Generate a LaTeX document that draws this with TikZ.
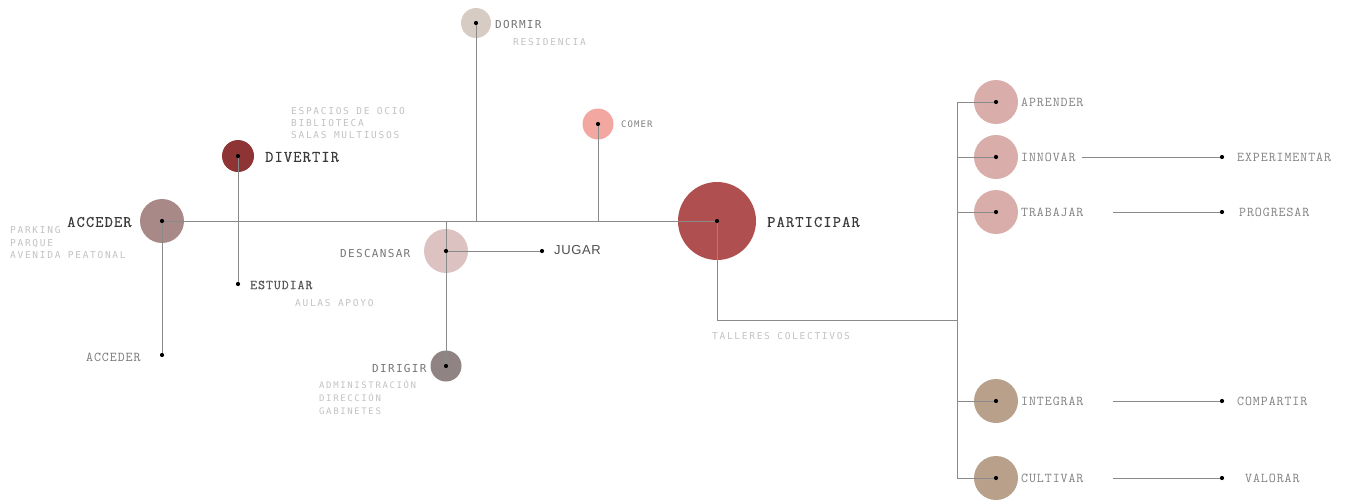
\documentclass[tikz,border=0pt]{standalone}
\usepackage{fontspec}
\setmainfont{Liberation Sans}
\newfontfamily\courfont[LetterSpace=7]{Latin Modern Mono}
\newfontfamily\courbold[LetterSpace=7,FakeBold=0.5]{Latin Modern Mono}
\newfontfamily\subfont[LetterSpace=18]{DejaVu Sans Mono}
\newfontfamily\midfont[LetterSpace=12]{DejaVu Sans Mono}
\newfontfamily\jugfont[LetterSpace=5]{Liberation Sans}
\definecolor{linec}{HTML}{8A8A8A}
\definecolor{cAcc}{HTML}{A98987}
\definecolor{cDiv}{HTML}{8E3434}
\definecolor{cDor}{HTML}{D7CCC3}
\definecolor{cCom}{HTML}{F2A7A1}
\definecolor{cDes}{HTML}{DCC3C1}
\definecolor{cDir}{HTML}{8F8483}
\definecolor{cPar}{HTML}{B04F4F}
\definecolor{cRose}{HTML}{D9ADA9}
\definecolor{cTan}{HTML}{B9A08B}
\definecolor{darktxt}{HTML}{3A3A3A}
\definecolor{graytxt}{HTML}{808080}
\definecolor{midtxt}{HTML}{767676}
\definecolor{subtxt}{HTML}{C2C2C2}
\tikzset{
  line/.style={draw=linec, line width=0.8pt},
  hub/.style={circle, inner sep=0pt, minimum size=#1},
  dot/.style={circle, fill=black, inner sep=0pt, minimum size=4.2pt},
  big/.style={font=\courbold\fontsize{16}{17}\selectfont, text=darktxt, inner sep=0pt, anchor=west},
  cour/.style={font=\courfont\fontsize{13.5}{14}\selectfont, text=graytxt, inner sep=0pt, anchor=west},
  mid/.style={font=\midfont\fontsize{11}{12}\selectfont, text=midtxt, inner sep=0pt, anchor=west},
  sub/.style={font=\subfont\fontsize{9.5}{12.5}\selectfont, text=subtxt, inner sep=0pt, align=left},
}
\begin{document}
\begin{tikzpicture}[x=1pt, y=-1pt]
\path[use as bounding box] (0,0) rectangle (1346,499);
% hubs
\node[hub=44pt, fill=cAcc] (acc) at (162,221) {};
\node[hub=32pt, fill=cDiv] (div) at (238,156) {};
\node[hub=30pt, fill=cDor] (dor) at (476,23) {};
\node[hub=31pt, fill=cCom] (com) at (598,124) {};
\node[hub=44pt, fill=cDes] (des) at (446,251) {};
\node[hub=31pt, fill=cDir] (dir) at (446,366) {};
\node[hub=78pt, fill=cPar] (par) at (717,221) {};
\node[hub=44pt, fill=cRose] (apr) at (996,102) {};
\node[hub=44pt, fill=cRose] (inn) at (996,157) {};
\node[hub=44pt, fill=cRose] (tra) at (996,212) {};
\node[hub=44pt, fill=cTan] (int) at (996,401) {};
\node[hub=44pt, fill=cTan] (cul) at (996,478) {};
% end dots
\node[dot] (acc2) at (162,355) {};
\node[dot] (est) at (238,284) {};
\node[dot] (jug) at (542,251) {};
\node[dot] (exp) at (1222,157) {};
\node[dot] (pro) at (1222,212) {};
\node[dot] (cmp) at (1222,401) {};
\node[dot] (val) at (1222,478) {};
% main labels
\node[big] (tAcc) at (67,222) {ACCEDER};
\node[big] (tDiv) at (265,157) {DIVERTIR};
\node[big] (tPar) at (767,222) {PARTICIPAR};
\node[cour, font=\courbold\fontsize{13.5}{14}\selectfont, text=darktxt!85] (tEst) at (250,285) {ESTUDIAR};
\node[cour, text=midtxt] (tAcc2) at (86,357) {ACCEDER};
\node[mid] (tDor) at (495,24) {DORMIR};
\node[mid, font=\midfont\fontsize{9}{10}\selectfont, text=graytxt] (tCom) at (621,124) {COMER};
\node[mid] (tDes) at (340,253) {DESCANSAR};
\node[mid] (tDir) at (372,368) {DIRIGIR};
\node[font=\jugfont\fontsize{13}{14}\selectfont, text=darktxt!90, inner sep=0pt, anchor=west] (tJug) at (554,250) {JUGAR};
\node[cour] (tApr) at (1021,102) {APRENDER};
\node[cour] (tInn) at (1021,157) {INNOVAR};
\node[cour] (tTra) at (1021,212) {TRABAJAR};
\node[cour] (tInt) at (1021,401) {INTEGRAR};
\node[cour] (tCul) at (1021,478) {CULTIVAR};
\node[cour] (tExp) at (1237,157) {EXPERIMENTAR};
\node[cour] (tPro) at (1239,212) {PROGRESAR};
\node[cour] (tCmp) at (1237,401) {COMPARTIR};
\node[cour] (tVal) at (1245,478) {VALORAR};
% sub labels
\node[sub, anchor=north west] (sPark) at (10,226.5) {PARKING\\PARQUE\\AVENIDA PEATONAL};
\node[sub, anchor=north west, font=\subfont\fontsize{9.5}{12}\selectfont] (sEsp) at (291,107.5) {ESPACIOS DE OCIO\\BIBLIOTECA\\SALAS MULTIUSOS};
\node[sub, anchor=west] (sRes) at (513,42) {RESIDENCIA};
\node[sub, anchor=west] (sAul) at (295,303) {AULAS APOYO};
\node[sub, anchor=north west, font=\subfont\fontsize{9}{13}\selectfont] (sAdm) at (319,379.5) {ADMINISTRACIÓN\\DIRECCIÓN\\GABINETES};
\node[sub, anchor=west] (sTal) at (712,336) {TALLERES COLECTIVOS};
% connectors
\draw[line] (acc.center) -- (par.center);
\draw[line] (acc.center) -- (acc2);
\draw[line] (div.center) -- (est);
\draw[line] (dor.center) -- (dor.center |- par.center);
\draw[line] (com.center) -- (com.center |- par.center);
\draw[line] (des.center |- par.center) -- (dir.center);
\draw[line] (des.center) -- (jug);
\coordinate (tj) at (957,320);
\draw[line] (par.center) |- (tj);
\draw[line] (apr.center -| tj) -- (cul.center -| tj);
\foreach \n in {apr,inn,tra,int,cul} \draw[line] (\n.center -| tj) -- (\n.center);
\coordinate (sInn) at (1082,157);
\coordinate (sTra) at (1113,212);
\coordinate (sInt) at (1113,401);
\coordinate (sCul) at (1113,478);
\draw[line] (sInn) -- (exp);
\draw[line] (sTra) -- (pro);
\draw[line] (sInt) -- (cmp);
\draw[line] (sCul) -- (val);
% centre dots
\foreach \n in {acc,div,dor,com,des,dir,par,apr,inn,tra,int,cul} \fill[black] (\n.center) circle (2.1pt);
\end{tikzpicture}
\end{document}
